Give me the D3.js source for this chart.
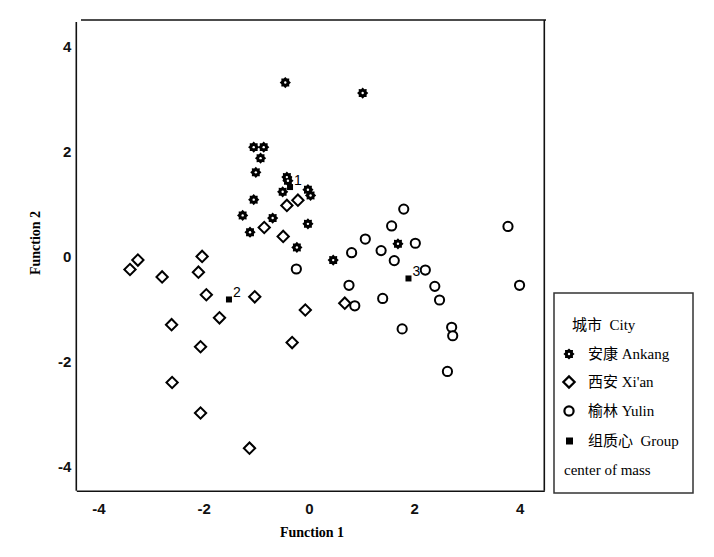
<!DOCTYPE html>
<html>
<head>
<meta charset="utf-8">
<script src="https://cdn.jsdelivr.net/npm/d3@7"></script>
<style>
  body { margin: 0; background: #fff; }
  svg { display: block; }
</style>
</head>
<body>
<svg id="chart" width="714" height="557"></svg>
<script>
// discriminant scores, [function 1, function 2]
var ankang = [[-0.45,3.32],[1.02,3.12],[-1.05,2.09],[-0.86,2.09],[-0.92,1.88],[-1.01,1.61],
  [-0.42,1.52],[-0.40,1.45],[-0.50,1.24],[-0.02,1.28],[0.03,1.17],[-1.05,1.09],[-1.26,0.79],
  [-0.69,0.74],[-1.12,0.47],[-0.02,0.63],[-0.23,0.18],[0.46,-0.06],[1.69,0.25]];
var xian = [[-0.42,0.98],[-0.21,1.08],[-0.85,0.56],[-0.49,0.39],[-3.25,-0.06],[-3.40,-0.24],
  [-2.03,0.01],[-2.10,-0.29],[-2.79,-0.38],[-1.95,-0.72],[-1.03,-0.76],[-1.70,-1.16],[-2.61,-1.29],
  [-0.07,-1.01],[-2.06,-1.71],[-0.32,-1.63],[-2.60,-2.39],[-2.06,-2.97],[-1.13,-3.64],[0.68,-0.88]];
var yulin = [[1.80,0.91],[1.57,0.59],[3.78,0.58],[1.07,0.34],[2.02,0.26],[0.81,0.08],[1.37,0.12],
  [1.62,-0.07],[2.21,-0.25],[0.76,-0.54],[2.39,-0.56],[4.00,-0.54],[1.40,-0.79],[2.48,-0.82],
  [0.87,-0.93],[1.77,-1.37],[2.71,-1.34],[2.73,-1.50],[2.63,-2.18],[-0.24,-0.23]];
var centroids = [[-0.36,1.33],[-1.52,-0.81],[1.89,-0.41]];
var centroidLabels = ["1","2","3"];
var ticks = [-4,-2,0,2,4];
var legendItems = ["安康 Ankang","西安 Xi'an","榆林 Yulin","组质心  Group"];

var svg = d3.select("#chart");

var x = d3.scaleLinear().domain([-4.42, 4.47]).range([76.3, 544.3]);
var y = d3.scaleLinear().domain([-4.45, 4.51]).range([490.7, 20]);

// gear-like filled marker used for Ankang
var gear = {
  draw: function(ctx, size) {
    var R = Math.sqrt(size / Math.PI) * 1.15, r = R * 0.75;
    for (var i = 0; i < 16; i++) {
      var a = i * Math.PI / 8, rr = i % 2 ? r : R;
      if (i === 0) ctx.moveTo(rr * Math.sin(a), -rr * Math.cos(a));
      else ctx.lineTo(rr * Math.sin(a), -rr * Math.cos(a));
    }
    ctx.closePath();
  }
};

// axes (no tick marks), frame
var xAxis = svg.append("g").attr("transform", "translate(0,490.7)")
  .call(d3.axisBottom(x).tickValues(ticks).tickFormat(function(d) { return String(d); })
    .tickSize(0).tickPadding(13));
var yAxis = svg.append("g").attr("transform", "translate(76.3,0)")
  .call(d3.axisLeft(y).tickValues(ticks).tickFormat(function(d) { return String(d); })
    .tickSize(0).tickPadding(5));
[xAxis, yAxis].forEach(function(g) {
  g.select(".domain").attr("stroke", "#111").attr("stroke-width", 1.6);
  g.selectAll("text").style("font-family", "'Liberation Sans', Arial, sans-serif")
    .style("font-weight", "bold").style("font-size", "15px").attr("fill", "#111");
});
yAxis.select(".domain").attr("d", "M0,22V490.7");
svg.append("line").attr("x1", 81).attr("x2", 546).attr("y1", 20).attr("y2", 20)
  .attr("stroke", "#111").attr("stroke-width", 1.6);
svg.append("line").attr("x1", 544.3).attr("x2", 544.3).attr("y1", 20).attr("y2", 490.7)
  .attr("stroke", "#111").attr("stroke-width", 1.6);

svg.append("text").attr("x", 312).attr("y", 537).attr("text-anchor", "middle")
  .style("font-family", "'Liberation Serif', 'Times New Roman', serif").style("font-weight", "bold")
  .style("font-size", "14px").text("Function 1");
svg.append("text").attr("transform", "translate(40,243) rotate(-90)").attr("text-anchor", "middle")
  .style("font-family", "'Liberation Serif', 'Times New Roman', serif").style("font-weight", "bold")
  .style("font-size", "14px").text("Function 2");

// points
var pts = svg.append("g");
pts.selectAll(".xian").data(xian).join("path").attr("class", "xian")
  .attr("transform", function(d) { return "translate(" + x(d[0]) + "," + y(d[1]) + ") rotate(45)"; })
  .attr("d", d3.symbol().type(d3.symbolSquare).size(64))
  .attr("fill", "#fff").attr("stroke", "#000").attr("stroke-width", 2);
pts.selectAll(".yulin").data(yulin).join("circle").attr("class", "yulin")
  .attr("cx", function(d) { return x(d[0]); }).attr("cy", function(d) { return y(d[1]); })
  .attr("r", 4.6).attr("fill", "#fff").attr("stroke", "#000").attr("stroke-width", 2);
pts.selectAll(".ankang").data(ankang).join("path").attr("class", "ankang")
  .attr("transform", function(d) { return "translate(" + x(d[0]) + "," + y(d[1]) + ")"; })
  .attr("d", d3.symbol().type(gear).size(75)).attr("fill", "#000");
pts.selectAll(".ankdot").data(ankang).join("circle").attr("class", "ankdot")
  .attr("cx", function(d) { return x(d[0]); }).attr("cy", function(d) { return y(d[1]); })
  .attr("r", 1.2).attr("fill", "#fff");
pts.selectAll(".cent").data(centroids).join("rect").attr("class", "cent")
  .attr("x", function(d) { return x(d[0]) - 3; }).attr("y", function(d) { return y(d[1]) - 3; })
  .attr("width", 6).attr("height", 6).attr("fill", "#000");
pts.selectAll(".centlab").data(centroids).join("text").attr("class", "centlab")
  .attr("x", function(d) { return x(d[0]) + 4; }).attr("y", function(d) { return y(d[1]) - 2; })
  .style("font-family", "'Liberation Sans', Arial, sans-serif").style("font-size", "14px")
  .attr("fill", "#000")
  .text(function(d, i) { return centroidLabels[i]; });

// legend
var lg = svg.append("g");
lg.append("rect").attr("x", 554).attr("y", 293).attr("width", 139).attr("height", 200)
  .attr("fill", "#fff").attr("stroke", "#333").attr("stroke-width", 1.5);
var lfont = "'Liberation Serif', 'Times New Roman', 'Noto Sans CJK SC', serif";
lg.append("text").attr("x", 572).attr("y", 330).style("font-family", lfont).style("font-size", "15px")
  .style("white-space", "pre").text("城市  City");
var ly = [354, 382, 411, 441];
lg.append("path").attr("transform", "translate(569," + ly[0] + ")")
  .attr("d", d3.symbol().type(gear).size(75)).attr("fill", "#000");
lg.append("circle").attr("cx", 569).attr("cy", ly[0]).attr("r", 1.2).attr("fill", "#fff");
lg.append("path").attr("transform", "translate(569," + ly[1] + ") rotate(45)")
  .attr("d", d3.symbol().type(d3.symbolSquare).size(64))
  .attr("fill", "#fff").attr("stroke", "#000").attr("stroke-width", 2.2);
lg.append("circle").attr("cx", 569).attr("cy", ly[2]).attr("r", 4.6)
  .attr("fill", "#fff").attr("stroke", "#000").attr("stroke-width", 2.2);
lg.append("rect").attr("x", 566).attr("y", ly[3] - 3.5).attr("width", 7).attr("height", 7).attr("fill", "#000");
lg.selectAll(".li").data(legendItems).join("text").attr("class", "li")
  .attr("x", 588).attr("y", function(d, i) { return ly[i] + 5; })
  .style("font-family", lfont).style("font-size", "15px").style("white-space", "pre")
  .text(function(d) { return d; });
lg.append("text").attr("x", 564).attr("y", 475).style("font-family", lfont).style("font-size", "15px")
  .text("center of mass");
</script>
</body>
</html>
